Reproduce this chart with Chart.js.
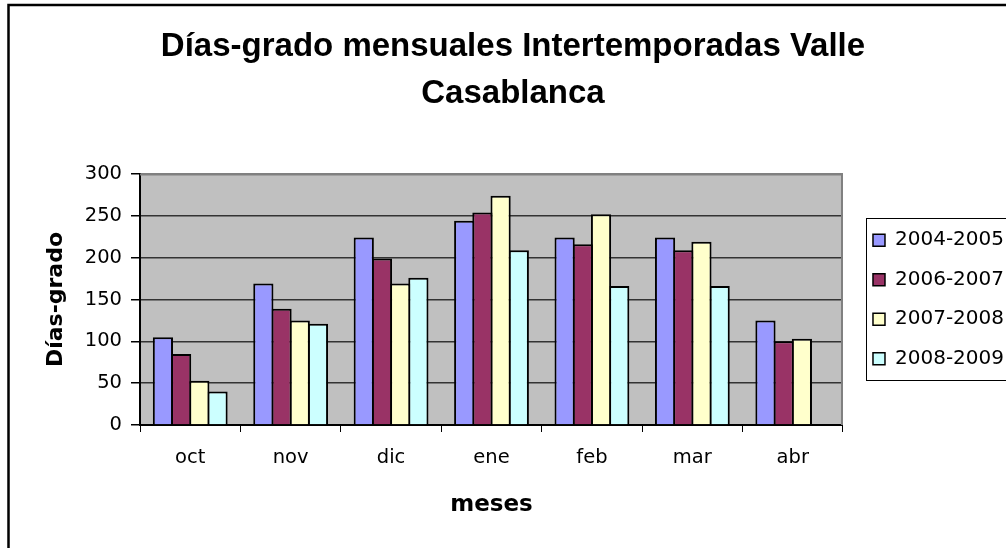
<!DOCTYPE html>
<html><head><meta charset="utf-8">
<script src="https://cdn.jsdelivr.net/npm/chart.js"></script>
<style>html,body{margin:0;padding:0;background:#fff;} #wrap{width:1006px;height:548px;position:relative;}</style>
</head><body><div id="wrap"><canvas id="c"></canvas></div>
<script>
const categories = ['oct','nov','dic','ene','feb','mar','abr'];
const seriesNames = ['2004-2005','2006-2007','2007-2008','2008-2009'];
const s2004_2005 = [105,169,224,244,224,224,125];
const s2006_2007 = [85,139,199,254,216,209,100];
const s2007_2008 = [53,125,169,274,252,219,103];
const s2008_2009 = [40,121,176,209,166,166,null];
const yTicks = [0,50,100,150,200,250,300];
const titleLines = ['Días-grado mensuales Intertemporadas Valle','Casablanca'];
const xTitle = 'meses';
const yTitle = 'Días-grado';
const colors = ['#9999FF','#993366','#FFFFCC','#CCFFFF'];

Chart.defaults.font.family = "'DejaVu Sans', sans-serif";
Chart.defaults.color = '#000';

const LEG_PAD = 19.5, LEG_FONT = 20, LEG_SHIFT = 10.5;

const deco = {
  id: 'deco',
  beforeDraw(chart) {
    const {ctx, chartArea: a} = chart;
    ctx.save();
    ctx.fillStyle = '#fff';
    ctx.fillRect(0, 0, chart.width, chart.height);
    ctx.fillStyle = '#C0C0C0';
    ctx.fillRect(a.left, a.top, a.right - a.left, a.bottom - a.top);
    ctx.restore();
  },
  afterLayout(chart) {
    chart.legend.left += LEG_SHIFT;
    chart.legend.right += LEG_SHIFT;
  },
  beforeDatasetsDraw(chart) {
    const {ctx, chartArea: a} = chart;
    ctx.save();
    ctx.strokeStyle = '#808080';
    ctx.lineWidth = 2;
    ctx.beginPath();
    ctx.moveTo(a.left, a.top + 0.5);
    ctx.lineTo(a.right - 1, a.top + 0.5);
    ctx.lineTo(a.right - 1, a.bottom);
    ctx.stroke();
    ctx.restore();
  },
  afterDraw(chart) {
    const {ctx} = chart;
    const lg = chart.legend;
    const n = lg.legendItems.length;
    const colH = n * (LEG_FONT + LEG_PAD);
    const startY = (lg.top + LEG_PAD + lg.bottom - colH) / 2;
    const L = lg.left + LEG_PAD - 7;
    const T = startY - 12;
    const B = startY + (n - 1) * (LEG_FONT + LEG_PAD) + LEG_FONT + 11;
    ctx.save();
    ctx.strokeStyle = '#000';
    ctx.lineWidth = 1;
    ctx.strokeRect(Math.round(L) + 0.5, Math.round(T) + 0.5, chart.width + 20, Math.round(B - T));
    ctx.lineWidth = 2.5;
    ctx.strokeRect(8.5, 5, chart.width + 20, chart.height + 20);
    ctx.restore();
  }
};

const seriesData = [s2004_2005, s2006_2007, s2007_2008, s2008_2009];

new Chart(document.getElementById('c'), {
  type: 'bar',
  data: {
    labels: categories,
    datasets: seriesData.map((d, i) => ({
      label: seriesNames[i],
      data: d,
      backgroundColor: colors[i],
      borderColor: '#000',
      borderWidth: 2,
      categoryPercentage: 0.725,
      barPercentage: 1.11
    }))
  },
  options: {
    responsive: true,
    maintainAspectRatio: false,
    animation: false,
    devicePixelRatio: 1,
    layout: {padding: {top: 10, left: 22.5, right: 2.5, bottom: 20.7}},
    plugins: {
      title: {
        display: true,
        text: titleLines,
        color: '#000',
        font: {family: "'Liberation Sans', Arial, sans-serif", size: 33, weight: 'bold', lineHeight: 1.42},
        padding: {top: 13.2, bottom: 57.1}
      },
      legend: {
        position: 'right',
        fullSize: false,
        align: 'center',
        labels: {
          boxWidth: 12,
          boxHeight: 12,
          padding: LEG_PAD,
          color: '#000',
          font: {size: LEG_FONT},
          generateLabels: (chart) => Chart.defaults.plugins.legend.labels.generateLabels(chart).map(l => Object.assign(l, {lineWidth: 1.5}))
        }
      },
      tooltip: {enabled: false}
    },
    scales: {
      x: {
        grid: {drawOnChartArea: false, drawTicks: true, tickLength: 7, color: '#000', offset: true},
        border: {color: '#000', width: 2},
        ticks: {font: {size: 19.5}, color: '#000', padding: 14},
        title: {display: true, text: xTitle, color: '#000', font: {size: 23, weight: 'bold'}, padding: {top: 8.3, bottom: 8}}
      },
      y: {
        min: yTicks[0],
        max: yTicks[yTicks.length - 1],
        ticks: {stepSize: yTicks[1] - yTicks[0], font: {size: 19.5}, color: '#000', padding: 9},
        grid: {
          color: (c) => (c.tick && c.tick.value === yTicks[yTicks.length - 1]) ? '#808080' : '#333',
          lineWidth: 1.5,
          tickColor: '#000',
          tickLength: 9
        },
        border: {color: '#000', width: 2},
        title: {display: true, text: yTitle, color: '#000', font: {size: 22, weight: 'bold'}, padding: {top: 20.3, bottom: 6.6}}
      }
    }
  },
  plugins: [deco]
});
</script>
</body></html>
